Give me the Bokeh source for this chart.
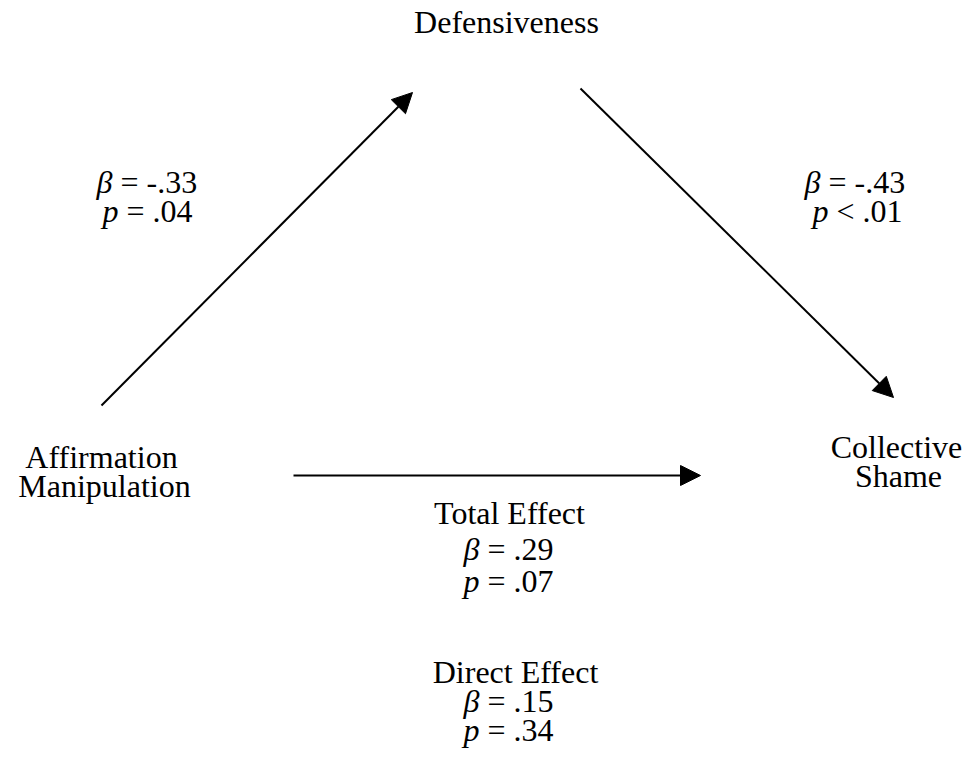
from bokeh.plotting import figure
from bokeh.models import Range1d, Arrow, NormalHead
from bokeh.core.properties import value
from bokeh.embed import file_html
from bokeh.resources import INLINE

# ---- data ----
node_names = ["Defensiveness", "Affirmation", "Manipulation", "Collective", "Shame"]
path_names = ["a", "b", "total", "direct"]
beta_values = ["-.33", "-.43", ".29", ".15"]
p_ops = ["=", "<", "=", "="]
p_values = [".04", ".01", ".07", ".34"]
effect_titles = ["Total Effect", "Direct Effect"]

FONT = "Liberation Serif"
FS = "32px"
NB = "\u00a0"

p = figure(width=963, height=751, x_range=Range1d(0, 963), y_range=Range1d(751, 0),
           output_backend="svg", toolbar_location=None, min_border=0)
p.axis.visible = False
p.grid.visible = False
p.outline_line_color = None
p.background_fill_color = "white"
p.border_fill_color = "white"

# node labels (layout positions)
node_x = [506, 101, 104, 896, 898]
node_y = [21, 456, 485, 446, 475]
p.text(x=node_x, y=node_y, text=node_names, text_font=value(FONT), text_font_size=FS,
       text_align="center", text_baseline="alphabetic", text_color="black")

# effect titles
p.text(x=[509, 515], y=[512, 671], text=effect_titles, text_font=value(FONT), text_font_size=FS,
       text_align="center", text_baseline="alphabetic", text_color="black")

# coefficient lines: italic symbol + regular remainder
split_beta_x = [112, 820, 479, 479]
beta_y = [181, 181, 548, 700]
split_p_x = [118, 828, 479, 479]
p_y = [210, 210, 580, 729]

sym = ["β"] * 4 + ["p"] * 4
rest = [NB + "=" + NB + b for b in beta_values] + [NB + o + NB + v for o, v in zip(p_ops, p_values)]
sx = split_beta_x + split_p_x
sy = beta_y + p_y
p.text(x=sx, y=sy, text=sym, text_font=value(FONT), text_font_size=FS, text_font_style="italic",
       text_align="right", text_baseline="alphabetic", text_color="black")
p.text(x=sx, y=sy, text=rest, text_font=value(FONT), text_font_size=FS,
       text_align="left", text_baseline="alphabetic", text_color="black")

# arrows (path layout)
arrows = [((101, 405), (412, 92)), ((580, 88), (893, 397)), ((293, 475), (700, 475))]
for (x0, y0), (x1, y1) in arrows:
    p.add_layout(Arrow(x_start=x0, y_start=y0, x_end=x1, y_end=y1, line_width=2, line_color="black",
                       end=NormalHead(size=20, fill_color="black", line_color="black", line_width=1)))

open("out.html", "w").write(file_html(p, INLINE))
